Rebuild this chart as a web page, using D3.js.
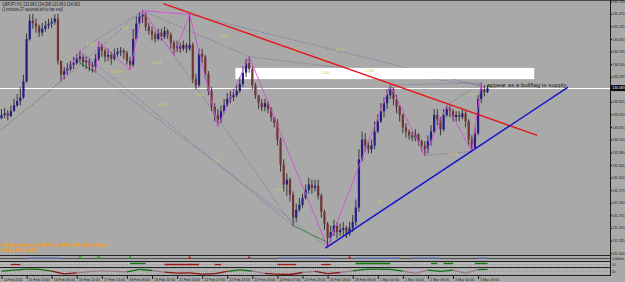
<!DOCTYPE html>
<html>
<head>
<meta charset="utf-8">
<script src="https://cdn.jsdelivr.net/npm/d3@7"></script>
<style>
  html, body { margin: 0; padding: 0; background: #a9a9a9; overflow: hidden; }
  svg { display: block; }
  text { font-family: "Liberation Sans", Arial, sans-serif; }
</style>
</head>
<body>
<svg id="chart"></svg>
<script>
// GBPJPY H1 (drawn as 2-hour candles), prices
const firstOpen = 133.52;
const closes = [
  133.58,133.61,133.56,133.65,133.76,133.84,133.91,134.21,135.00,135.34,
  135.29,135.23,135.12,135.19,135.25,135.29,135.32,135.38,134.59,134.33,
  134.40,134.44,134.52,134.55,134.63,134.67,134.57,134.59,134.52,134.48,
  134.63,134.85,134.78,134.67,134.70,134.63,134.72,134.76,134.78,134.74,
  134.59,134.52,135.00,135.29,135.42,135.46,135.23,135.15,135.08,135.00,
  135.12,135.04,135.15,135.08,134.93,134.82,134.87,134.82,134.89,134.82,
  134.89,134.25,134.14,134.72,134.67,134.35,134.03,133.73,133.58,133.50,
  133.65,133.76,133.88,133.91,133.95,134.03,134.16,134.37,134.55,134.44,
  134.14,133.95,133.80,133.73,133.80,133.69,133.54,133.43,133.12,132.65,
  132.28,132.37,132.09,131.66,131.81,131.90,132.03,132.18,132.28,132.22,
  132.26,132.07,131.77,131.55,131.28,131.39,131.51,131.39,131.43,131.47,
  131.36,131.47,131.58,131.85,132.75,133.12,133.01,132.94,133.01,133.27,
  133.46,133.65,133.80,133.95,134.06,133.88,133.73,133.58,133.35,133.27,
  133.20,133.16,133.22,133.09,133.01,132.94,133.09,133.27,133.58,133.50,
  133.31,133.58,133.69,133.65,133.54,133.58,133.54,133.61,133.46,133.12,
  132.97,133.24,133.88,134.06,134.01,134.08
];
const highs = [
  133.69,133.71,133.67,133.76,133.88,133.97,134.10,134.33,135.10,135.46,
  135.47,135.38,135.27,135.30,135.34,135.38,135.40,135.46,135.47,134.59,
  134.48,134.55,134.59,134.67,134.72,134.78,134.70,134.67,134.63,134.57,
  134.72,134.95,134.91,134.82,134.82,134.76,134.82,134.83,134.85,134.82,
  134.78,134.67,135.19,135.42,135.49,135.53,135.49,135.30,135.23,135.14,
  135.19,135.19,135.23,135.19,135.12,134.97,134.97,134.93,134.97,134.93,
  135.46,134.93,134.35,134.82,134.82,134.70,134.40,134.10,133.80,133.69,
  133.76,133.88,133.99,134.03,134.06,134.14,134.29,134.48,134.63,134.67,
  134.48,134.18,133.95,133.88,133.88,133.84,133.73,133.54,133.50,133.16,
  132.75,132.49,132.41,132.15,131.92,132.03,132.11,132.28,132.41,132.37,
  132.37,132.37,132.11,131.81,131.58,131.51,131.62,131.58,131.55,131.58,
  131.51,131.58,131.71,132.00,132.94,133.27,133.24,133.09,133.12,133.46,
  133.59,133.80,133.91,134.06,134.14,134.10,133.95,133.76,133.61,133.43,
  133.31,133.27,133.31,133.24,133.12,133.09,133.20,133.39,133.69,133.69,
  133.54,133.69,133.76,133.76,133.69,133.65,133.65,133.69,133.65,133.50,
  133.20,133.35,133.95,134.18,134.14,134.14
];
const lows = [
  133.50,133.52,133.48,133.54,133.65,133.73,133.76,133.88,134.18,134.97,
  135.19,135.12,135.04,135.06,135.14,135.19,135.21,135.27,134.52,134.21,
  134.25,134.33,134.40,134.44,134.52,134.55,134.48,134.44,134.40,134.37,
  134.38,134.59,134.67,134.57,134.59,134.52,134.59,134.67,134.68,134.63,
  134.52,134.42,134.48,134.97,135.23,135.30,135.15,135.08,134.97,134.93,
  134.97,134.97,135.00,135.00,134.82,134.70,134.76,134.74,134.78,134.74,
  134.78,134.18,134.06,134.10,134.55,134.25,133.95,133.65,133.46,133.37,
  133.43,133.61,133.73,133.80,133.84,133.91,133.99,134.10,134.29,134.37,
  134.06,133.88,133.69,133.65,133.65,133.61,133.46,133.35,133.01,132.52,
  132.15,132.07,131.96,131.51,131.58,131.77,131.85,132.00,132.11,132.11,
  132.15,132.00,131.66,131.43,131.11,131.21,131.32,131.28,131.32,131.32,
  131.28,131.32,131.39,131.51,131.77,132.71,132.90,132.86,132.86,132.94,
  133.24,133.43,133.54,133.69,133.88,133.76,133.61,133.46,133.24,133.16,
  133.12,133.09,133.09,133.01,132.90,132.82,132.86,133.01,133.24,133.39,
  133.20,133.27,133.54,133.54,133.46,133.46,133.46,133.50,133.35,133.01,
  132.90,132.94,133.20,133.80,133.93,133.99
];

const priceTicks = [131.000,131.235,131.470,131.705,131.940,132.175,132.410,132.645,132.880,
  133.120,133.355,133.590,133.825,134.295,134.530,134.765,135.000,135.235,135.470,135.705];
const lastPrice = 134.083;

const timeIdx = [0,8,16,24,32,40,48,56,64,72,80,88,96,104,112,120,128,136,144,152];
const timeLabels = ["14 Feb 2011","15 Feb 14:00","16 Feb 06:00","16 Feb 22:00","17 Feb 14:00",
  "18 Feb 06:00","18 Feb 22:00","21 Feb 15:00","22 Feb 07:00","22 Feb 23:00","23 Feb 15:00",
  "24 Feb 07:00","24 Feb 23:00","25 Feb 15:00","28 Feb 08:00","1 Mar 00:00","1 Mar 16:00",
  "2 Mar 08:00","3 Mar 00:00","3 Mar 16:00"];

// ZUP zigzag pivots (candle index, price)
const zigIdx = [19, 25, 30, 31, 41, 45, 55, 60, 69, 79, 104, 124, 135, 142, 150, 153];
const zigPrice = [134.21,134.78,134.38,134.95,134.42,135.53,134.70,135.46,133.37,134.67,
  131.11,134.14,132.82,133.76,132.90,134.18];
const zigExtra = [[45, 135.53, 60, 135.46]];

// dotted pattern lines [i1, p1, i2, p2]
const purpleDotted = [
  [19,134.21,45,135.53],[25,134.78,45,135.53],[25,134.78,93,131.51],[30,134.38,104,131.11],
  [45,135.53,93,131.51],[45,135.53,79,134.67],[60,135.46,153,134.12],[79,134.67,153,134.14],
  [124,134.14,153,134.18],[142,133.76,153,134.18],[104,131.11,150,132.90],[135,132.82,150,132.90]
];
const greenDotted = [[0,133.31,19,134.21]];
const greenSolid = [[25,134.55,30,134.38],[93,131.51,104,131.20]];

// fib ratio labels
const fibIdx = [27, 38.6, 35.4, 48, 50, 61.8, 69.5, 92.4, 101, 106.5, 101.7, 116, 133.5, 148, 142.5, 87.3, 67.3, 119.8];
const fibPrice = [134.87,135.19,134.37,134.53,133.74,133.93,135.02,134.76,134.59,134.78,134.35,134.38,
  133.91,133.93,132.84,132.15,132.70,131.94];
const fibText = ["1.272","0.5","0.886","1.618","2.618","1.000","0.382","0.618","0.886","1.272","1.000",
  "0.786","0.618","1.272","1.618","0.786","2.24","0.5"];

// trend lines and zone
const redTrend = [51.6, 135.66, 170.8, 133.20];
const blueTrend = [103.3, 131.09, 180.7, 134.10];
const supplyZone = [74.6, 134.46, 169.9, 134.25];
const note = "appear as a bullflag to supply";

// lower indicator windows
const oscValues = [0.2,0.5,0.9,0.8,0.2,-0.8,-0.4,0.0,0.3,0.1,-0.1,0.8,0.4,-0.2,-0.5,-0.4,-0.9,-0.7,
  0.1,0.6,0.2,-0.6,-0.9,-1.0,-0.3,0.1,-0.7,-0.3,0.3,0.8,0.9,0.8,0.2,-0.6,0.5,0.1,0.5,-0.5,0.7,0.8];
const bandRed = [[3,6],[52,63],[68,70],[88,94],[102,105]];
const bandGreen = [[41,46],[113,124],[137,139],[141,144],[151,155]];
const trendBlocks = [[8,19],[88,105],[113,127],[131,140],[152,155]];
const signalUp = [25, 31, 41];
const signalDown = [60, 79, 111];

const W = 625, H = 282;
const svg = d3.select("#chart").attr("width", W).attr("height", H);

const x = d3.scaleLinear().domain([0, 155]).range([1.5, 487.5]);
const y = d3.scaleLinear().domain([131, 135.705]).range([253, 1.3]);

svg.append("rect").attr("width", W).attr("height", H).attr("fill", "#a9a9a9");
svg.append("line").attr("x1", 0).attr("x2", W).attr("y1", 0.5).attr("y2", 0.5).attr("stroke", "#4a4a4a");

svg.append("clipPath").attr("id", "mainclip")
  .append("rect").attr("x", 0).attr("y", 1).attr("width", 610).attr("height", 254);
const main = svg.append("g").attr("clip-path", "url(#mainclip)");

function seg(g, d, color, width, dash) {
  return g.append("line")
    .attr("x1", x(d[0])).attr("y1", y(d[1]))
    .attr("x2", x(d[2])).attr("y2", y(d[3]))
    .attr("stroke", color).attr("stroke-width", width)
    .attr("stroke-dasharray", dash || null);
}

// pattern lines
purpleDotted.forEach(d => seg(main, d, "#6c6c9c", 0.8, "1.5,1.5"));
greenDotted.forEach(d => seg(main, d, "#2f7f2f", 0.8, "1.5,1.5"));
greenSolid.forEach(d => seg(main, d, "#3b7d3b", 0.9));

// white supply zone
main.append("rect")
  .attr("x", x(supplyZone[0])).attr("y", y(supplyZone[1]))
  .attr("width", x(supplyZone[2]) - x(supplyZone[0]))
  .attr("height", y(supplyZone[3]) - y(supplyZone[1]))
  .attr("fill", "#ffffff");

// fib labels
main.selectAll(".fib").data(fibIdx).join("text")
  .attr("x", d => x(d)).attr("y", (d, k) => y(fibPrice[k]))
  .attr("font-size", 3.6).attr("fill", "#d2d25a")
  .text((d, k) => fibText[k]);

// current price line
main.append("line").attr("x1", 0).attr("x2", 610)
  .attr("y1", Math.round(y(lastPrice)) + 0.5).attr("y2", Math.round(y(lastPrice)) + 0.5)
  .attr("stroke", "#ffffff").attr("stroke-width", 1);

// candles
const candles = closes.map((c, i) => {
  const o = i === 0 ? firstOpen : closes[i - 1];
  return { i, o, c, h: Math.max(highs[i], o, c), l: Math.min(lows[i], o, c) };
});
main.selectAll(".wick").data(candles).join("line")
  .attr("x1", d => x(d.i)).attr("x2", d => x(d.i))
  .attr("y1", d => y(d.h)).attr("y2", d => y(d.l))
  .attr("stroke", "#1b1b1b").attr("stroke-width", 0.8);
main.selectAll(".body").data(candles).join("rect")
  .attr("x", d => x(d.i) - 1.1).attr("width", 2.2)
  .attr("y", d => y(Math.max(d.o, d.c)))
  .attr("height", d => Math.max(0.8, Math.abs(y(d.o) - y(d.c))))
  .attr("fill", d => d.c >= d.o ? "#1f1f86" : "#733434");

// zigzag
const zig = d3.line().x((d, k) => x(zigIdx[k])).y((d, k) => y(zigPrice[k]));
main.append("path").attr("d", zig(zigIdx)).attr("fill", "none")
  .attr("stroke", "#d24fd2").attr("stroke-width", 0.9);
zigExtra.forEach(d => seg(main, d, "#d24fd2", 0.9));

// trend lines
seg(main, redTrend, "#e8141c", 1.4);
seg(main, blueTrend, "#1212cc", 1.4);

// note
main.append("text").attr("x", x(154.9)).attr("y", y(134.10))
  .attr("font-size", 6).attr("fill", "#202020")
  .attr("textLength", 79).attr("lengthAdjust", "spacingAndGlyphs")
  .text(note);

// header
svg.append("text").attr("x", 2).attr("y", 6).attr("font-size", 4.5).attr("fill", "#1a1a1a")
  .attr("textLength", 78).attr("lengthAdjust", "spacingAndGlyphs")
  .text("GBPJPY,H1  133.983 134.098 133.963 134.083");
svg.append("text").attr("x", 2).attr("y", 10.5).attr("font-size", 4.5).attr("fill", "#1a1a1a")
  .attr("textLength", 61).attr("lengthAdjust", "spacingAndGlyphs")
  .text("(1 minutes 27 seconds left to bar end)");

// ZUP info text
svg.append("text").attr("x", 2).attr("y", 246.5).attr("font-size", 5).attr("font-weight", "bold")
  .attr("fill", "#ff9c00").attr("textLength", 106).attr("lengthAdjust", "spacingAndGlyphs")
  .text("No Pattern Now on GBPJPY H1,  WRB_ZUP_INFO_v83.mq4");
svg.append("text").attr("x", 2).attr("y", 252).attr("font-size", 5).attr("font-weight", "bold")
  .attr("fill", "#ff9c00").attr("textLength", 35).attr("lengthAdjust", "spacingAndGlyphs")
  .text("Entry Risk: N/A");

// window separators
[255.5, 261.5, 267.5, 275.5].forEach(v => {
  svg.append("line").attr("x1", 0).attr("x2", 611).attr("y1", v).attr("y2", v)
    .attr("stroke", "#222").attr("stroke-width", 1);
});

// window A: trend blocks and signals
svg.append("line").attr("x1", 0).attr("x2", 610).attr("y1", 258.5).attr("y2", 258.5)
  .attr("stroke", "#3a3a3a").attr("stroke-width", 0.8);
trendBlocks.forEach(b => {
  svg.append("line").attr("x1", x(b[0])).attr("x2", x(b[1])).attr("y1", 258.2).attr("y2", 258.2)
    .attr("stroke", "#5a6aa8").attr("stroke-width", 1.4);
});
signalUp.forEach(i => svg.append("rect").attr("x", x(i) - 1).attr("y", 256.5).attr("width", 2).attr("height", 2.5).attr("fill", "#129a12"));
signalDown.forEach(i => svg.append("rect").attr("x", x(i) - 1).attr("y", 256.5).attr("width", 2).attr("height", 2.5).attr("fill", "#c01818"));

// window B: dotted levels + colored bands
[263.5, 266].forEach(v => {
  svg.append("line").attr("x1", 0).attr("x2", 610).attr("y1", v).attr("y2", v)
    .attr("stroke", "#e6e6e6").attr("stroke-width", 0.7).attr("stroke-dasharray", "1,1");
});
bandRed.forEach(b => svg.append("line").attr("x1", x(b[0])).attr("x2", x(b[1]))
  .attr("y1", 264.5).attr("y2", 264.5).attr("stroke", "#a31414").attr("stroke-width", 1.3));
bandGreen.forEach(b => svg.append("line").attr("x1", x(b[0])).attr("x2", x(b[1]))
  .attr("y1", 263.5).attr("y2", 263.5).attr("stroke", "#137a13").attr("stroke-width", 1.3));

// window C: oscillator
const yo = d3.scaleLinear().domain([-1, 1]).range([274.5, 268.8]);
[270, 273].forEach(v => {
  svg.append("line").attr("x1", 0).attr("x2", 610).attr("y1", v).attr("y2", v)
    .attr("stroke", "#e6e6e6").attr("stroke-width", 0.6).attr("stroke-dasharray", "1,1");
});
const oscIdx = oscValues.map((v, k) => Math.min(155, k * 4));
for (let k = 0; k < oscValues.length - 1; k++) {
  const m = (oscValues[k] + oscValues[k + 1]) / 2;
  svg.append("line")
    .attr("x1", x(oscIdx[k])).attr("y1", yo(oscValues[k]))
    .attr("x2", x(oscIdx[k + 1])).attr("y2", yo(oscValues[k + 1]))
    .attr("stroke", m > 0.2 ? "#0d6e0d" : (m < -0.2 ? "#8e1212" : "#9a7890"))
    .attr("stroke-width", 1.3);
}

// price axis
svg.append("line").attr("x1", 610.5).attr("x2", 610.5).attr("y1", 0).attr("y2", 276)
  .attr("stroke", "#1a1a1a");
const yAxis = d3.axisRight(y).tickValues(priceTicks).tickFormat(d3.format(".3f")).tickSize(1.5).tickPadding(0.3);
const gy = svg.append("g").attr("transform", "translate(610.5,0)").call(yAxis);
gy.select(".domain").remove();
gy.selectAll(".tick line").attr("stroke", "#1a1a1a");
gy.selectAll(".tick text").attr("font-size", 3.4).attr("fill", "#1a1a1a")
  .attr("font-family", "Liberation Sans, Arial, sans-serif");

const ly = y(lastPrice);
svg.append("rect").attr("x", 611).attr("y", ly - 3).attr("width", 14).attr("height", 6).attr("fill", "#0a0a0a");
svg.append("text").attr("x", 612.3).attr("y", ly + 1.3).attr("font-size", 3.4).attr("fill", "#ffffff")
  .text(d3.format(".3f")(lastPrice));

// indicator window labels
[["0.000mm", 259.8], ["50", 265.5], ["50", 272.5]].forEach(t => {
  svg.append("text").attr("x", 612).attr("y", t[1]).attr("font-size", 3).attr("fill", "#1a1a1a").text(t[0]);
});

// time axis
const xAxis = d3.axisBottom(x).tickValues(timeIdx).tickFormat((d, k) => timeLabels[k]).tickSize(3);
const gx = svg.append("g").attr("transform", "translate(0,276)").call(xAxis);
gx.select(".domain").remove();
gx.selectAll(".tick line").attr("stroke", "#1a1a1a");
gx.selectAll(".tick text").attr("text-anchor", "start").attr("x", 1.5).attr("y", 5).attr("dy", null)
  .attr("font-size", 4.2).attr("fill", "#1a1a1a")
  .attr("textLength", (d, k) => timeLabels[k].length * 1.75).attr("lengthAdjust", "spacingAndGlyphs")
  .attr("font-family", "Liberation Sans, Arial, sans-serif");
</script>
</body>
</html>
